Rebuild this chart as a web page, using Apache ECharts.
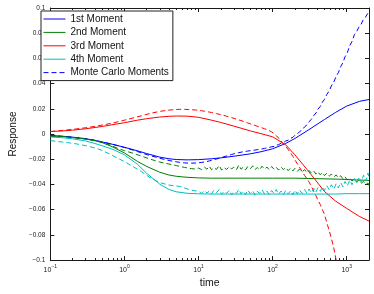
<!DOCTYPE html>
<html><head><meta charset="utf-8">
<script src="https://cdn.jsdelivr.net/npm/echarts@6/dist/echarts.min.js"></script>
<style>html,body{margin:0;padding:0;background:#fff}#c{width:374px;height:294px}</style>
</head><body><div id="c"></div>
<script>
// ---- theoretical moments ----
const tTheory = [0.1,0.15,0.2,0.3,0.4,0.5,0.7,1,1.5,2,3,4,5,7,10,15,20,30,50,70,100,150,200,300,500,700,1000,1500,2000];
const firstMoment = [-0.0012,-0.0018,-0.0025,-0.0037,-0.0050,-0.0063,-0.0082,-0.0105,-0.0133,-0.0155,-0.0183,-0.0196,-0.0202,-0.0205,-0.0203,-0.0196,-0.0189,-0.0176,-0.0157,-0.0140,-0.0117,-0.0075,-0.0035,0.0030,0.0115,0.0170,0.0222,0.0260,0.0274];
const thirdMoment = [0.0020,0.0025,0.0031,0.0042,0.0052,0.0060,0.0075,0.0090,0.0110,0.0122,0.0135,0.0141,0.0143,0.0142,0.0133,0.0110,0.0092,0.0063,0.0025,0.0003,-0.0022,-0.0085,-0.0165,-0.0290,-0.0455,-0.0530,-0.0590,-0.0655,-0.0690];
const fourthMoment = [-0.0023,-0.0030,-0.0038,-0.0055,-0.0075,-0.0093,-0.0122,-0.0165,-0.0240,-0.0312,-0.0398,-0.0440,-0.0458,-0.0470,-0.0474,-0.0476,-0.0476,-0.0476,-0.0476,-0.0476,-0.0476,-0.0476,-0.0476,-0.0476,-0.0476,-0.0476,-0.0473,-0.0473,-0.0473];
const tSecond = [0.1,0.15,0.2,0.3,0.4,0.5,0.7,1,1.5,2,3,4,5,7,10,15,20,30,50,70,100,150,200,205,780,790,2000];
const secondMoment = [-0.0015,-0.0020,-0.0027,-0.0039,-0.0053,-0.0068,-0.0103,-0.0150,-0.0217,-0.0257,-0.0303,-0.0325,-0.0335,-0.0343,-0.0348,-0.0350,-0.0350,-0.0350,-0.0350,-0.0350,-0.0350,-0.0350,-0.0350,-0.0358,-0.0358,-0.0368,-0.0368];

// ---- Monte Carlo moments ----
const tMC = [0.1,0.13,0.17,0.22,0.3,0.4,0.5,0.65,0.8,1,1.3,1.7,2.2,3,4,5,
  5.5,6,6.5,7,7.5,8,8.5,9,
  10,11,12,13,14,15,16,17.5,
  19,20.5,22,24,26,28,30,32.5,35,37.5,40,43,
  46,50,54,58,62,67,72,78,84,90,97,
  105,112,120,130,140,150,162,175,188,200,215,230,250,
  270,290,310,335,360,385,410,440,470,500,
  540,580,620,670,720,770,830,890,950,1020,
  1100,1180,1270,1360,1460,1570,1690,1810,1940,2000];
const mcFirst = [-0.0012,-0.0016,-0.0021,-0.0028,-0.0037,-0.0050,-0.0063,-0.0077,-0.0091,-0.0107,-0.0127,-0.0150,-0.0170,-0.0192,-0.0210,-0.0220,
  -0.0224,-0.0227,-0.0229,-0.0230,-0.0231,-0.0231,-0.0231,-0.0230,
  -0.0228,-0.0225,-0.0222,-0.0218,-0.0213,-0.0208,-0.0204,-0.0198,
  -0.0192,-0.0186,-0.0180,-0.0174,-0.0168,-0.0162,-0.0157,-0.0152,-0.0148,-0.0144,-0.0141,-0.0138,
  -0.0135,-0.0132,-0.0129,-0.0127,-0.0124,-0.0121,-0.0118,-0.0114,-0.0110,-0.0106,-0.0101,
  -0.0098,-0.0088,-0.0085,-0.0073,-0.0068,-0.0055,-0.0049,-0.0034,-0.0026,-0.0010,0.0000,0.0018,0.0032,
  0.0057,0.0072,0.0098,0.0117,0.0148,0.0167,0.0198,0.0219,0.0253,0.0274,
  0.0315,0.0341,0.0381,0.0413,0.0458,0.0486,0.0535,0.0567,0.0613,0.0646,
  0.0701,0.0735,0.0788,0.0812,0.0848,0.0872,0.0913,0.0930,0.0962,0.0966];
const mcSecond = [-0.0015,-0.0018,-0.0023,-0.0030,-0.0040,-0.0052,-0.0066,-0.0088,-0.0112,-0.0132,-0.0152,-0.0175,-0.0198,-0.0222,-0.0238,-0.0250,
  -0.0255,-0.0260,-0.0265,-0.0268,-0.0272,-0.0274,-0.0276,-0.0278,
  -0.0270,-0.0282,-0.0262,-0.0279,-0.0255,-0.0284,-0.0268,-0.0280,
  -0.0250,-0.0286,-0.0265,-0.0281,-0.0258,-0.0277,-0.0262,-0.0283,-0.0246,-0.0279,-0.0263,-0.0285,
  -0.0259,-0.0276,-0.0252,-0.0281,-0.0266,-0.0284,-0.0255,-0.0278,-0.0262,-0.0283,-0.0258,
  -0.0280,-0.0264,-0.0286,-0.0261,-0.0282,-0.0266,-0.0290,-0.0270,-0.0292,-0.0272,-0.0296,-0.0278,-0.0300,
  -0.0282,-0.0305,-0.0288,-0.0311,-0.0294,-0.0318,-0.0300,-0.0324,-0.0305,-0.0329,
  -0.0311,-0.0334,-0.0318,-0.0341,-0.0324,-0.0347,-0.0331,-0.0355,-0.0340,-0.0364,
  -0.0348,-0.0372,-0.0356,-0.0381,-0.0365,-0.0390,-0.0376,-0.0400,-0.0388,-0.0408];
const mcThird = [0.0020,0.0026,0.0033,0.0040,0.0050,0.0061,0.0071,0.0084,0.0096,0.0110,0.0127,0.0145,0.0163,0.0180,0.0190,0.0195,
  0.0196,0.0196,0.0196,0.0195,0.0194,0.0193,0.0192,0.0191,
  0.0188,0.0185,0.0181,0.0178,0.0174,0.0171,0.0168,0.0162,
  0.0157,0.0152,0.0148,0.0141,0.0135,0.0130,0.0125,0.0118,0.0112,0.0107,0.0101,0.0095,
  0.0088,0.0081,0.0075,0.0068,0.0062,0.0055,0.0049,0.0042,0.0035,0.0027,0.0017,
  0.0004,-0.0012,-0.0031,-0.0055,-0.0078,-0.0098,-0.0122,-0.0150,-0.0178,-0.0205,-0.0235,-0.0262,-0.0298,
  -0.0328,-0.0354,-0.0380,-0.0418,-0.0455,-0.0490,-0.0525,-0.0560,-0.0600,-0.0635,
  -0.0705,-0.0765,-0.0825,-0.0905,-0.1000,-0.1080];
const mcFourth = [-0.0052,-0.0060,-0.0068,-0.0077,-0.0092,-0.0110,-0.0130,-0.0162,-0.0190,-0.0218,-0.0258,-0.0298,-0.0345,-0.0385,-0.0405,-0.0412,
  -0.0415,-0.0420,-0.0428,-0.0435,-0.0440,-0.0445,-0.0448,-0.0450,
  -0.0455,-0.0470,-0.0448,-0.0468,-0.0452,-0.0475,-0.0447,-0.0466,
  -0.0440,-0.0478,-0.0455,-0.0470,-0.0446,-0.0482,-0.0458,-0.0471,-0.0440,-0.0474,-0.0452,-0.0480,
  -0.0445,-0.0472,-0.0450,-0.0485,-0.0455,-0.0470,-0.0442,-0.0476,-0.0453,-0.0481,-0.0448,
  -0.0472,-0.0440,-0.0478,-0.0452,-0.0483,-0.0447,-0.0474,-0.0450,-0.0480,-0.0446,-0.0475,-0.0443,-0.0472,
  -0.0440,-0.0470,-0.0436,-0.0466,-0.0430,-0.0460,-0.0424,-0.0455,-0.0418,-0.0448,
  -0.0410,-0.0442,-0.0402,-0.0436,-0.0395,-0.0428,-0.0385,-0.0420,-0.0376,-0.0412,
  -0.0365,-0.0402,-0.0352,-0.0392,-0.0340,-0.0382,-0.0326,-0.0372,-0.0310,-0.0345];

// ---- axes ----
const xMajorTicks = [0.1,1,10,100,1000];
const xMinorTicks = [0.2,0.3,0.4,0.5,0.6,0.7,0.8,0.9,2,3,4,5,6,7,8,9,20,30,40,50,60,70,80,90,200,300,400,500,600,700,800,900,2000];
const legendNames = ['1st Moment','2nd Moment','3rd Moment','4th Moment','Monte Carlo Moments'];

function zip(ts, vs){ const n=Math.min(ts.length,vs.length); const o=[]; for(let i=0;i<n;i++) o.push([ts[i],vs[i]]); return o; }

const FONT = '"Liberation Sans", Arial, Helvetica, sans-serif';
const AX = '#1a1a1a';
const C = {blue:'#0000ff', green:'#008000', red:'#ff0000', cyan:'#00bfbf'};
const DASH = [5,3];

function xAx(pos, ticks, len, showLine, showLabel){
  return {
    type:'log', min:0.1, max:2000, position:pos, logBase:10,
    axisLine:{show:showLine, onZero:false, lineStyle:{color:AX, width:1}},
    axisTick:{show:true, inside:true, length:len, customValues:ticks, lineStyle:{color:AX, width:1}},
    axisLabel:{show:showLabel, customValues:ticks, margin:4,
      formatter:function(v){ const e=Math.round(Math.log10(v)); return '{b|10}{s|'+(e<0?'\u2212'+(-e):e)+'}'; },
      rich:{ b:{fontSize:7, fontFamily:FONT, color:'#222', lineHeight:9, verticalAlign:'bottom'},
             s:{fontSize:5, fontFamily:FONT, color:'#222', lineHeight:9, verticalAlign:'top'} } },
    splitLine:{show:false}, minorTick:{show:false}
  };
}
function fmtY(v){ if (Math.abs(v)<1e-9) return '0'; const s=parseFloat(Math.abs(v).toFixed(2)).toString(); return (v<0?'\u2212':'')+s; }

const xAxes = [xAx('bottom', xMajorTicks, 4, true, true), xAx('bottom', xMinorTicks, 2, false, false),
               xAx('top', xMajorTicks, 4, true, false), xAx('top', xMinorTicks, 2, false, false)];
xAxes[0].name='time'; xAxes[0].nameLocation='middle'; xAxes[0].nameGap=17;
xAxes[0].nameTextStyle={fontSize:10.5, fontFamily:FONT, color:'#111'};

function yAx(pos, showLabel){
  return {type:'value', min:-0.1, max:0.1, interval:0.02, position:pos,
    axisLine:{show:true, onZero:false, lineStyle:{color:AX, width:1}},
    axisTick:{show:true, inside:true, length:4, lineStyle:{color:AX, width:1}},
    axisLabel:{show:showLabel, formatter:fmtY, fontSize:6.5, fontFamily:FONT, color:'#222', margin:5},
    splitLine:{show:false}};
}
const yAxes=[yAx('left',true), yAx('right',false)];
yAxes[0].name='Response'; yAxes[0].nameLocation='middle'; yAxes[0].nameGap=27; yAxes[0].nameRotate=90;
yAxes[0].nameTextStyle={fontSize:10, fontFamily:FONT, color:'#111'};

function ser(name, data, color, dashed, z){
  return {name:name, type:'line', data:data, symbol:'none', showSymbol:false, clip:true, z:z,
    lineStyle:{color:color, width:1, type: dashed?DASH:'solid'}, itemStyle:{color:color},
    emphasis:{disabled:true}, animation:false};
}

const chart = echarts.init(document.getElementById('c'), null, {renderer:'canvas'});
chart.setOption({
  animation:false, backgroundColor:'#fff',
  grid:{left:38, right:5, top:8, bottom:27, containLabel:false},
  xAxis:xAxes, yAxis:yAxes,
  legend:{data:legendNames, orient:'vertical', left:41, top:11, padding:[3,4,3,2], itemGap:3.4,
    itemWidth:22, itemHeight:10, backgroundColor:'#fff', borderColor:'#222', borderWidth:1,
    itemStyle:{opacity:0, borderWidth:0}, lineStyle:{width:1},
    textStyle:{fontSize:10, fontFamily:FONT, color:'#111', lineHeight:10}, selectedMode:false},
  series:[
    ser(legendNames[0], zip(tTheory, firstMoment), C.blue, false, 2),
    ser(legendNames[1], zip(tSecond, secondMoment), C.green, false, 2),
    ser(legendNames[2], zip(tTheory, thirdMoment), C.red, false, 2),
    ser(legendNames[3], zip(tTheory, fourthMoment), C.cyan, false, 2),
    ser(legendNames[4], zip(tMC, mcFirst), C.blue, true, 3),
    ser('MC 2nd', zip(tMC, mcSecond), C.green, true, 3),
    ser('MC 3rd', zip(tMC, mcThird), C.red, true, 3),
    ser('MC 4th', zip(tMC, mcFourth), C.cyan, true, 3)
  ]
});
</script></body></html>
